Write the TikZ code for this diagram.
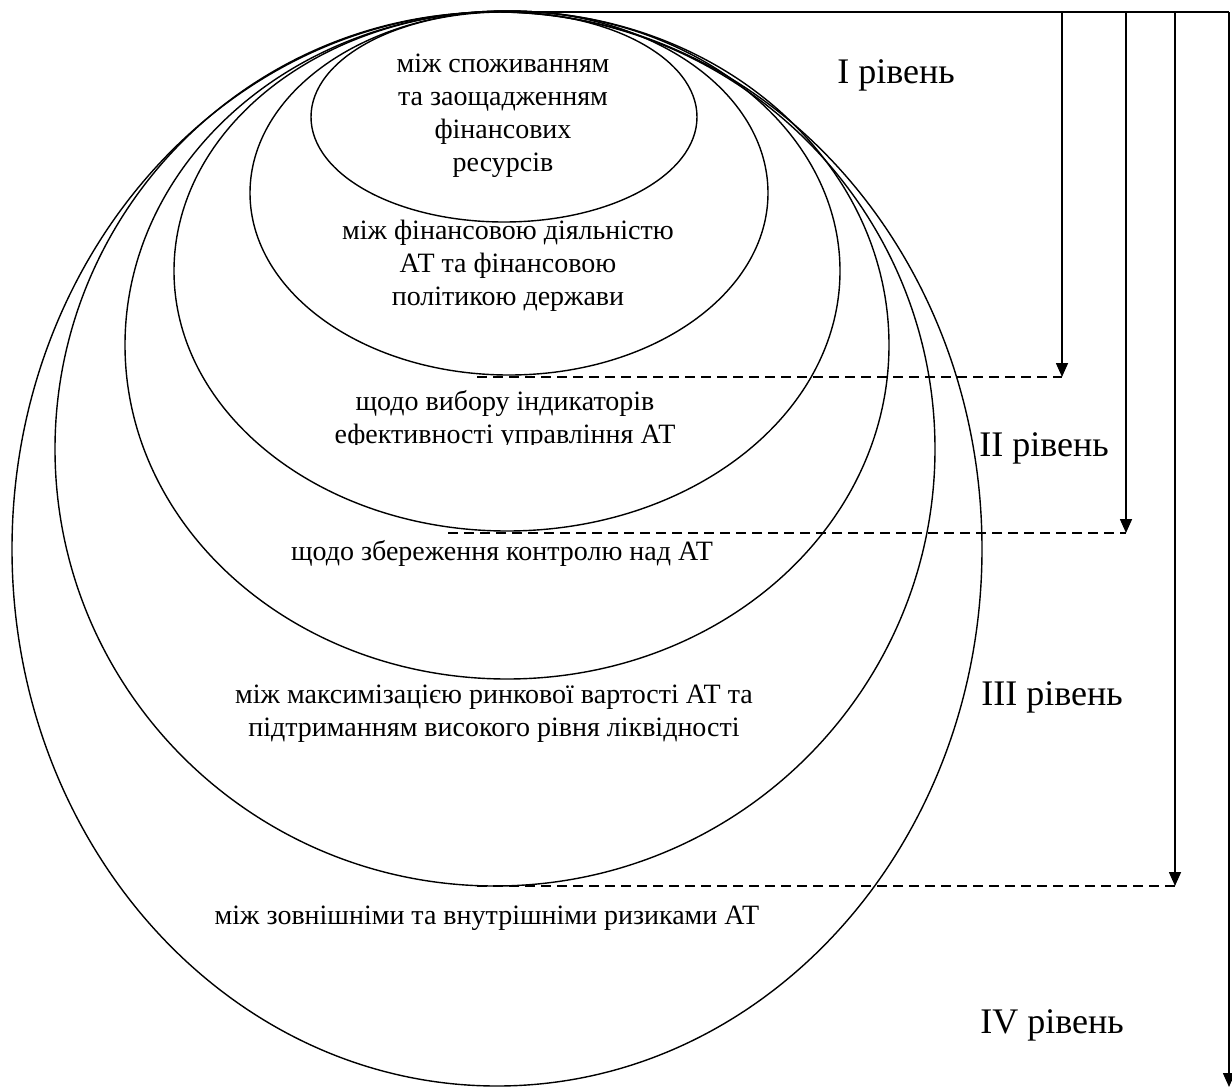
\documentclass[tikz,border=0pt]{standalone}
\usepackage{fontspec}
\setmainfont{Liberation Serif}
\usetikzlibrary{arrows.meta}
\begin{document}
\begin{tikzpicture}[x=1pt,y=-1pt,
  ell/.style={draw, line width=1.4pt},
  body/.style={font=\fontsize{28}{33}\selectfont, align=center, inner sep=0pt},
  lvl/.style={font=\fontsize{36}{40}\selectfont, inner sep=0pt},
  arr/.style={line width=1.6pt, -{Triangle[length=14pt,width=12pt]}},
  dsh/.style={line width=1.6pt, dash pattern=on 10pt off 6pt},
  topline/.style={line width=1.6pt}]
\useasboundingbox (0,0) rectangle (1232,1090);
% nested ellipses
\draw[ell] (497,549) ellipse [x radius=485, y radius=537];
\draw[ell] (495,449) ellipse [x radius=440, y radius=437];
\draw[ell] (507,345) ellipse [x radius=382, y radius=334];
\draw[ell] (507,271) ellipse [x radius=333, y radius=260];
\draw[ell] (509,193) ellipse [x radius=259, y radius=182];
\draw[ell] (504,117) ellipse [x radius=193, y radius=105];
% texts
\node[body] (t1) at (503,116) {між споживанням\\та заощадженням\\фінансових\\ресурсів};
\node[body] (t2) at (508,266) {між фінансовою діяльністю\\АТ та фінансовою\\політикою держави};
\begin{scope}
\clip (0,0) rectangle (1232,444);
\node[body] (t3) at (505,420) {щодо вибору індикаторів\\ефективності управління АТ};
\end{scope}
\node[body] (t4) at (502,553) {щодо збереження контролю над АТ};
\node[body] (t5) at (494,714) {між максимізацією ринкової вартості АТ та\\підтриманням високого рівня ліквідності};
\node[body] (t6) at (487,918) {між зовнішніми та внутрішніми ризиками АТ};
% level labels
\node[lvl] (l1) at (896,75) {І рівень};
\node[lvl] (l2) at (1044,448) {ІІ рівень};
\node[lvl] (l3) at (1052,697) {ІІІ рівень};
\node[lvl] (l4) at (1052,1025) {ІV рівень};
% connectors
\coordinate (ts) at (505,12);
\coordinate (te) at (1229,12);
\coordinate (a1) at (1062,12);
\coordinate (a2) at (1126,12);
\coordinate (a3) at (1175,12);
\coordinate (a1e) at (1062,377);
\coordinate (a2e) at (1126,533);
\coordinate (a3e) at (1175,886);
\coordinate (a4e) at (1229,1087);
\coordinate (d1) at (477,377);
\coordinate (d2) at (448,533);
\coordinate (d3) at (477,886);
\draw[topline] (ts) -- (te);
\draw[arr] (a1) -- (a1e);
\draw[arr] (a2) -- (a2e);
\draw[arr] (a3) -- (a3e);
\draw[arr] (te) -- (a4e);
\draw[dsh] (d1) -- (a1e);
\draw[dsh] (d2) -- (a2e);
\draw[dsh] (d3) -- (a3e);
\end{tikzpicture}
\end{document}
